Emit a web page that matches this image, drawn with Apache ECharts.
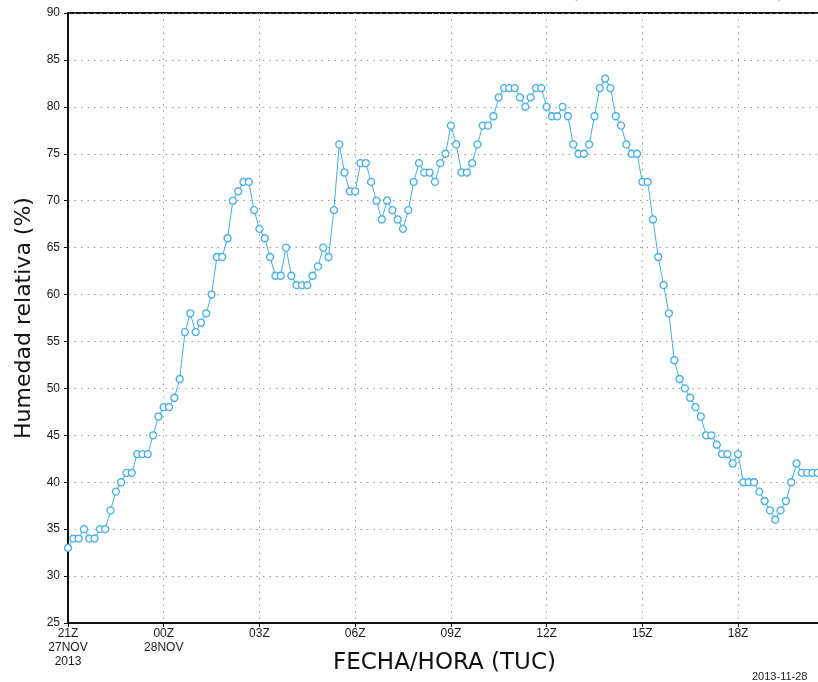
<!DOCTYPE html>
<html>
<head>
<meta charset="utf-8">
<script src="https://cdn.jsdelivr.net/npm/echarts@6/dist/echarts.min.js"></script>
<style>
html,body{margin:0;padding:0;background:#fff;}
#c{width:818px;height:682px;}
</style>
</head>
<body>
<div id="c"></div>
<script>
// 10-minute steps starting 21Z 27NOV2013
var stepMinutes = 10;
var humidity = [
  33,34,34,35,34,34,35,35,37,39,40,41,41,43,43,43,45,47,48,48,
  49,51,56,58,56,57,58,60,64,64,66,70,71,72,72,69,67,66,64,62,
  62,65,62,61,61,61,62,63,65,64,69,76,73,71,71,74,74,72,70,68,
  70,69,68,67,69,72,74,73,73,72,74,75,78,76,73,73,74,76,78,78,
  79,81,82,82,82,81,80,81,82,82,80,79,79,80,79,76,75,75,76,79,
  82,83,82,79,78,76,75,75,72,72,68,64,61,58,53,51,50,49,48,47,
  45,45,44,43,43,42,43,40,40,40,39,38,37,36,37,38,40,42,41,41,
  41,41
];
var yTicks = [25,30,35,40,45,50,55,60,65,70,75,80,85,90];
var xTickLabels = {0:'21Z\n27NOV\n2013',180:'00Z\n28NOV',360:'03Z',540:'06Z',720:'09Z',900:'12Z',1080:'15Z',1260:'18Z'};
var yTitle = 'Humedad relativa (%)';
var xTitle = 'FECHA/HORA (TUC)';
var stamp = '2013-11-28';

var data = humidity.map(function(v,i){return [i*stepMinutes, v];});

var chart = echarts.init(document.getElementById('c'));
chart.setOption({
  animation:false,
  backgroundColor:'#fff',
  grid:{left:68, top:13, right:-3, bottom:59, outerBoundsMode:'none', containLabel:false,
        show:true, borderColor:'#111', borderWidth:2, backgroundColor:'transparent'},
  xAxis:{
    type:'value', min:0, max:1416, interval:180,
    axisLine:{show:true, lineStyle:{color:'#111', width:2}},
    axisTick:{show:true, length:4, lineStyle:{color:'#111'}},
    splitLine:{show:true, lineStyle:{color:'#9a9a9a', type:[1.5,5], width:1}},
    axisLabel:{showMaxLabel:false, color:'#1a1a1a', fontSize:12, fontFamily:'Liberation Sans', lineHeight:14, margin:4,
      formatter:function(v){return xTickLabels[v]!==undefined?xTickLabels[v]:'';}},
    name:xTitle, nameLocation:'middle', nameGap:29, nameMoveOverlap:false,
    nameTextStyle:{color:'#111', fontSize:23, fontFamily:'DejaVu Sans'}
  },
  yAxis:{
    type:'value', min:25, max:90, interval:5,
    axisLine:{show:true, lineStyle:{color:'#111', width:2}},
    axisTick:{show:true, length:4, lineStyle:{color:'#111'}},
    splitLine:{show:true, lineStyle:{color:'#9a9a9a', type:[1.5,5], width:1}},
    axisLabel:{color:'#1a1a1a', fontSize:12, fontFamily:'Liberation Sans', margin:8,
      formatter:function(v){return yTicks.indexOf(v)>=0?String(v):'';}},
    name:yTitle, nameLocation:'middle', nameGap:33, nameMoveOverlap:false,
    nameTextStyle:{color:'#111', fontSize:22, fontFamily:'DejaVu Sans'}
  },
  series:[{
    type:'line', data:data, clip:true,
    symbol:'circle', symbolSize:7, showAllSymbol:true,
    lineStyle:{color:'#3fb0e8', width:1},
    itemStyle:{color:'#ffffff', borderColor:'#3fb0e8', borderWidth:1.3}
  }],
  graphic:[
    {type:'text', left:752, top:671, style:{text:stamp, fill:'#222', font:'11px "Liberation Sans"'}},
    {type:'text', left:572, top:-14, style:{text:'(', fill:'#f0a050', font:'17px "DejaVu Sans"'}},
    {type:'text', left:777, top:-14, style:{text:')', fill:'#f0a050', font:'17px "DejaVu Sans"'}}
  ]
});
</script>
</body>
</html>
